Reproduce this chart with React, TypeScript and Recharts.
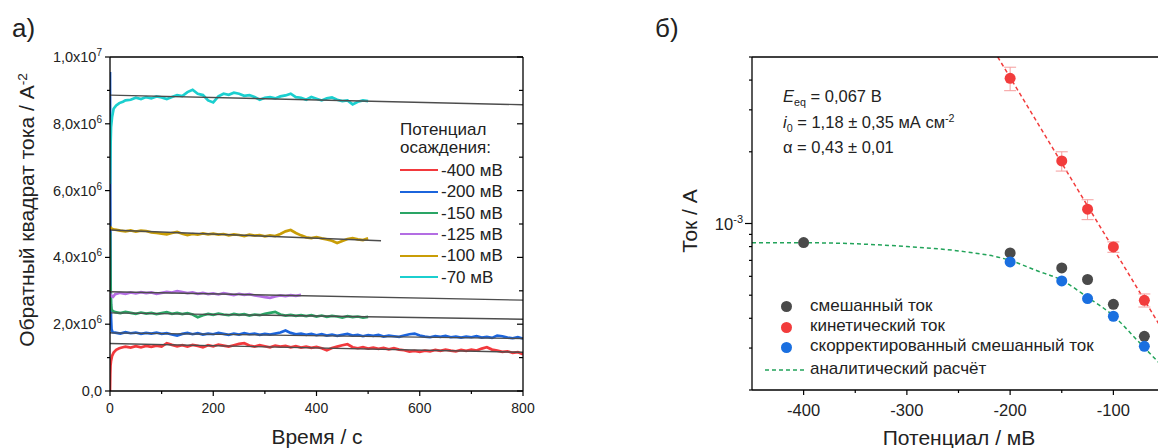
import React from 'react';
import { LineChart, Line, XAxis, YAxis, ComposedChart, Scatter, ErrorBar } from 'recharts';

const FONT = '"Liberation Sans", Arial, sans-serif';
const INK = '#222';

// ---------- panel a): inverse squared current vs time (values in 1e6 A^-2) ----------
const grid = (from: number, to: number, step: number) => {
  const out: number[] = [];
  for (let t = from; t <= to + 1e-9; t += step) out.push(t);
  return out;
};

const red400Times = [0, 0.5, 1, 2, 4, 7, 12, 18, 25, ...grid(30, 800, 10)];
const red400Values = [
  0, 0.5, 0.75, 0.9, 1.05, 1.15, 1.23, 1.28, 1.31,
  1.33, 1.30, 1.34, 1.31, 1.35, 1.32, 1.36, 1.33, 1.43, 1.38,
  1.34, 1.37, 1.33, 1.38, 1.35, 1.31, 1.37, 1.34, 1.39, 1.36,
  1.33, 1.37, 1.41, 1.43, 1.36, 1.33, 1.37, 1.34, 1.31, 1.36,
  1.33, 1.35, 1.31, 1.34, 1.30, 1.33, 1.29, 1.32, 1.28, 1.22,
  1.29, 1.33, 1.37, 1.40, 1.31, 1.28, 1.31, 1.27, 1.30, 1.26,
  1.29, 1.25, 1.28, 1.24, 1.22, 1.18, 1.20, 1.17, 1.21, 1.19,
  1.23, 1.20, 1.24, 1.21, 1.19, 1.23, 1.20, 1.24, 1.21, 1.27,
  1.31, 1.24, 1.21, 1.17, 1.19, 1.14, 1.16, 1.10,
];

const blue200Times = [0, 0.5, 1, 2, 3, 5, ...grid(10, 800, 10)];
const blue200Values = [
  9.55, 6.0, 3.5, 2.2, 1.85, 1.76,
  1.75, 1.72, 1.76, 1.73, 1.75, 1.71, 1.74, 1.72, 1.75, 1.71,
  1.73, 1.69, 1.66, 1.71, 1.74, 1.70, 1.73, 1.69, 1.72, 1.70,
  1.74, 1.71, 1.68, 1.72, 1.69, 1.73, 1.70, 1.72, 1.68, 1.71,
  1.69, 1.72, 1.75, 1.81, 1.74, 1.70, 1.72, 1.68, 1.71, 1.67,
  1.70, 1.66, 1.69, 1.65, 1.68, 1.71, 1.66, 1.68, 1.64, 1.67,
  1.65, 1.68, 1.63, 1.66, 1.64, 1.62, 1.66, 1.70, 1.72, 1.66,
  1.63, 1.61, 1.64, 1.62, 1.65, 1.61, 1.63, 1.60, 1.63, 1.61,
  1.64, 1.60, 1.62, 1.59, 1.66, 1.64, 1.60, 1.58, 1.61, 1.57,
];

const green150Times = [0, 1, 2, 3, 5, ...grid(10, 500, 10)];
const green150Values = [
  4.75, 3.2, 2.6, 2.45, 2.4,
  2.36, 2.33, 2.37, 2.34, 2.31, 2.35, 2.32, 2.34, 2.30, 2.33,
  2.36, 2.31, 2.34, 2.30, 2.33, 2.29, 2.21, 2.27, 2.31, 2.28,
  2.32, 2.29, 2.27, 2.31, 2.28, 2.30, 2.26, 2.29, 2.27, 2.31,
  2.34, 2.37, 2.29, 2.26, 2.28, 2.25, 2.27, 2.24, 2.27, 2.23,
  2.26, 2.22, 2.25, 2.23, 2.20, 2.24, 2.21, 2.23, 2.20, 2.22,
];

const purple125Times = [0, 3, 6, ...grid(10, 370, 10)];
const purple125Values = [
  2.92, 2.84, 2.82,
  2.90, 2.94, 2.91, 2.95, 2.92, 2.96, 2.93, 2.95, 2.91, 2.94,
  2.97, 2.95, 2.99, 2.96, 2.93, 2.95, 2.91, 2.94, 2.90, 2.92,
  2.89, 2.93, 2.90, 2.87, 2.91, 2.88, 2.90, 2.86, 2.84, 2.81,
  2.79, 2.83, 2.86, 2.84, 2.87, 2.85, 2.88,
];

const gold100Times = [0, 3, ...grid(10, 500, 10)];
const gold100Values = [
  4.92, 4.86,
  4.83, 4.80, 4.78, 4.81, 4.77, 4.80, 4.79, 4.75, 4.73, 4.71,
  4.69, 4.73, 4.76, 4.71, 4.67, 4.70, 4.68, 4.72, 4.69, 4.71,
  4.68, 4.70, 4.66, 4.69, 4.67, 4.64, 4.68, 4.65, 4.67, 4.63,
  4.66, 4.64, 4.70, 4.78, 4.82, 4.73, 4.66, 4.60, 4.58, 4.61,
  4.57, 4.54, 4.50, 4.43, 4.49, 4.55, 4.58, 4.54, 4.52, 4.57,
];

const cyan70Times = [0, 1, 2, 4, 7, 12, 18, 25, ...grid(30, 500, 10)];
const cyan70Values = [
  6.2, 7.3, 7.9, 8.2, 8.45, 8.55, 8.62, 8.66,
  8.70, 8.72, 8.78, 8.74, 8.80, 8.76, 8.82, 8.79, 8.74, 8.80,
  8.86, 8.83, 8.95, 9.02, 8.90, 8.86, 8.70, 8.64, 8.82, 8.90,
  8.87, 8.93, 8.90, 8.84, 8.86, 8.80, 8.72, 8.78, 8.80, 8.76,
  8.82, 8.85, 8.90, 8.80, 8.78, 8.72, 8.80, 8.75, 8.70, 8.76,
  8.79, 8.72, 8.68, 8.70, 8.58, 8.66, 8.70, 8.68,
];

// linear fits: [start time, end time] and [start value, end value]
const fitTimes = { f70: [0, 800], f100: [0, 525], f125: [0, 800], f150: [0, 800], f200: [0, 800], f400: [0, 800] };
const fitValues = { f70: [8.86, 8.57], f100: [4.82, 4.5], f125: [2.97, 2.72], f150: [2.34, 2.15], f200: [1.74, 1.57], f400: [1.42, 1.16] };

const TIME_TICKS = [0, 100, 200, 300, 400, 500, 600, 700, 800];
const SQ_TICKS = [0, 1, 2, 3, 4, 5, 6, 7, 8, 9, 10];

const timeSeries = [
  { name: '-400 мВ', color: '#f2393d', times: red400Times, values: red400Values },
  { name: '-200 мВ', color: '#1b64dc', times: blue200Times, values: blue200Values },
  { name: '-150 мВ', color: '#2aa565', times: green150Times, values: green150Values },
  { name: '-125 мВ', color: '#b36de3', times: purple125Times, values: purple125Values },
  { name: '-100 мВ', color: '#c99d06', times: gold100Times, values: gold100Values },
  { name: '-70 мВ', color: '#1bcfcf', times: cyan70Times, values: cyan70Values },
];

const zipTV = (times: number[], values: number[]) => times.map((t, i) => ({ t, v: values[i] }));

// ---------- panel б): current vs potential (log scale, A) ----------
const mixedPot = [-400, -200, -150, -125, -100, -70];
const mixedCurrent = [8.32e-4, 7.52e-4, 6.51e-4, 5.82e-4, 4.58e-4, 3.36e-4];
const kinPot = [-200, -150, -125, -100, -70];
const kinCurrent = [4.07e-3, 1.83e-3, 1.148e-3, 7.97e-4, 4.76e-4];
const kinErr = [4.6e-4, 1.7e-4, 1.1e-4, 4e-5, 3e-5];
const corrPot = [-200, -150, -125, -100, -70];
const corrCurrent = [6.9e-4, 5.74e-4, 4.84e-4, 4.08e-4, 3.05e-4];
const tafelPot = [-212, -50];
const tafelCurrent = [5.0e-3, 3.43e-4];
const analyticPot = [-450, -400, -350, -300, -250, -200, -175, -150, -125, -100, -75, -50];
const analyticCurrent = [8.3e-4, 8.3e-4, 8.22e-4, 8.0e-4, 7.67e-4, 7.0e-4, 6.36e-4, 5.78e-4, 4.9e-4, 4.1e-4, 3.17e-4, 2.45e-4];

const POT_TICKS = [-400, -350, -300, -250, -200, -150, -100, -50];
const LOG_TICKS = [2e-4, 3e-4, 4e-4, 5e-4, 6e-4, 7e-4, 8e-4, 9e-4, 1e-3, 2e-3, 3e-3, 4e-3, 5e-3];

const zipXY = (xs: number[], ys: number[], errs?: number[]) =>
  xs.map((x, i) => (errs ? { x, y: ys[i], err: errs[i] } : { x, y: ys[i] }));

const GRAY = '#4a4a4a';
const RED = '#f23c3c';
const BLUE = '#1a6fe0';
const GREEN = '#22a35a';

// ---------- tick renderers ----------
const TimeTick = ({ x, y, payload }: any) => {
  const major = payload.value % 200 === 0;
  return (
    <g>
      <line x1={x} y1={y} x2={x} y2={y + (major ? 5 : 3)} stroke="#000" strokeWidth={1.2} />
      {major && (
        <text x={x} y={y + 22} textAnchor="middle" fontSize={14} fontFamily={FONT} fill={INK}>
          {payload.value}
        </text>
      )}
    </g>
  );
};

const TopTick = (major: (v: number) => boolean, big: number, small: number) => ({ x, y, payload }: any) => (
  <line x1={x} y1={y} x2={x} y2={y + (major(payload.value) ? big : small)} stroke="#000" strokeWidth={1.2} />
);

const RightTick = ({ x, y, payload }: any) => {
  const major = payload.value % 2 === 0;
  return <line x1={x - (major ? 6 : 4)} y1={y} x2={x} y2={y} stroke="#000" strokeWidth={1.2} />;
};

const SqTick = ({ x, y, payload }: any) => {
  const v = payload.value;
  const major = v % 2 === 0;
  let main = '';
  let sup = '';
  if (major) {
    if (v === 0) main = '0,0';
    else if (v === 10) { main = '1,0x10'; sup = '7'; }
    else { main = `${v},0x10`; sup = '6'; }
  }
  return (
    <g>
      <line x1={x - (major ? 5 : 3)} y1={y} x2={x} y2={y} stroke="#000" strokeWidth={1.2} />
      {major && (
        <text x={x - 8} y={y + 5} textAnchor="end" fontSize={14.5} fontFamily={FONT} fill={INK}>
          <tspan>{main}</tspan>
          {sup && <tspan dy={-6} fontSize={10}>{sup}</tspan>}
        </text>
      )}
    </g>
  );
};

const PotTick = ({ x, y, payload }: any) => {
  const major = payload.value % 100 === 0;
  return (
    <g>
      <line x1={x} y1={y} x2={x} y2={y + (major ? 5 : 3)} stroke="#000" strokeWidth={1.2} />
      {major && (
        <text x={x} y={y + 26} textAnchor="middle" fontSize={16.5} fontFamily={FONT} fill={INK}>
          {payload.value}
        </text>
      )}
    </g>
  );
};

const LogTick = ({ x, y, payload }: any) => {
  const major = Math.abs(payload.value - 1e-3) < 1e-9;
  return (
    <g>
      <line x1={x - (major ? 7 : 3)} y1={y} x2={x} y2={y} stroke="#000" strokeWidth={1.2} />
      {major && (
        <text x={x - 9} y={y + 6.5} textAnchor="end" fontSize={16.5} fontFamily={FONT} fill={INK}>
          <tspan>10</tspan>
          <tspan dy={-7} fontSize={11}>-3</tspan>
        </text>
      )}
    </g>
  );
};

const dot = (fill: string) => (p: any) => <circle cx={p.cx} cy={p.cy} r={5.5} fill={fill} />;

const abs = (left: number, top: number, extra: React.CSSProperties = {}): React.CSSProperties => ({
  position: 'absolute', left, top, lineHeight: 1, whiteSpace: 'nowrap', ...extra,
});
const supStyle: React.CSSProperties = { fontSize: '0.65em', position: 'relative', top: '-0.55em', lineHeight: 0 };
const subStyle: React.CSSProperties = { fontSize: '0.65em', position: 'relative', top: '0.3em', lineHeight: 0 };

const legendRowsA = [170, 191.5, 213, 234.3, 255.5, 277];
const legendRowsB = [306.7, 327.3, 347.3, 370];

export default function App() {
  const axisLine = { stroke: '#000', strokeWidth: 1.3 };
  return (
    <div style={{ position: 'absolute', left: 0, top: 0, width: 1158, height: 448, overflow: 'hidden', background: '#fff', fontFamily: FONT, color: INK }}>
      {/* panel a) */}
      <div style={{ position: 'absolute', left: 0, top: 0 }}>
        <LineChart width={540} height={448} margin={{ top: 56, right: 16, bottom: 27, left: 50 }}>
          <XAxis dataKey="t" type="number" domain={[0, 800]} ticks={TIME_TICKS} interval={0} allowDataOverflow
            height={30} tickSize={0} tickMargin={0} tickLine={false} axisLine={axisLine} tick={(p: any) => <TimeTick {...p} />} />
          <XAxis xAxisId="top" orientation="top" type="number" domain={[0, 800]} ticks={TIME_TICKS} interval={0} allowDataOverflow
            height={1} tickSize={0} tickMargin={0} tickLine={false} axisLine={axisLine}
            tick={TopTick((v) => v % 200 === 0, 6, 3)} />
          <YAxis type="number" domain={[0, 10]} ticks={SQ_TICKS} interval={0} allowDataOverflow
            width={60} tickSize={0} tickMargin={0} tickLine={false} axisLine={axisLine} tick={(p: any) => <SqTick {...p} />} />
          <YAxis yAxisId="right" orientation="right" type="number" domain={[0, 10]} ticks={SQ_TICKS} interval={0} allowDataOverflow
            width={1} tickSize={0} tickMargin={0} tickLine={false} axisLine={axisLine} tick={(p: any) => <RightTick {...p} />} />
          {timeSeries.map((s) => (
            <Line key={s.name} data={zipTV(s.times, s.values)} dataKey="v" stroke={s.color} strokeWidth={2.7}
              dot={false} type="linear" isAnimationActive={false} />
          ))}
          {Object.keys(fitTimes).map((k) => (
            <Line key={k} data={zipTV((fitTimes as any)[k], (fitValues as any)[k])} dataKey="v" stroke="#4d4d4d"
              strokeWidth={1.4} dot={false} type="linear" isAnimationActive={false} />
          ))}
        </LineChart>
      </div>

      {/* panel б) */}
      <div style={{ position: 'absolute', left: 640, top: 0 }}>
        <ComposedChart width={526} height={448} margin={{ top: 56, right: 1, bottom: 28, left: 52 }}>
          <XAxis dataKey="x" type="number" domain={[-450, -50]} ticks={POT_TICKS} interval={0} allowDataOverflow
            height={30} tickSize={0} tickMargin={0} tickLine={false} axisLine={axisLine} tick={(p: any) => <PotTick {...p} />} />
          <XAxis xAxisId="top" orientation="top" type="number" domain={[-450, -50]} ticks={POT_TICKS} interval={0} allowDataOverflow
            height={1} tickSize={0} tickMargin={0} tickLine={false} axisLine={axisLine}
            tick={TopTick((v) => v % 100 === 0, 6, 3)} />
          <YAxis dataKey="y" type="number" scale="log" domain={[2e-4, 5e-3]} ticks={LOG_TICKS} interval={0} allowDataOverflow
            width={60} tickSize={0} tickMargin={0} tickLine={false} axisLine={axisLine} tick={(p: any) => <LogTick {...p} />} />
          <Line data={zipXY(analyticPot, analyticCurrent)} dataKey="y" stroke={GREEN} strokeWidth={1.5} strokeDasharray="4 3"
            dot={false} type="monotone" isAnimationActive={false} />
          <Line data={zipXY(tafelPot, tafelCurrent)} dataKey="y" stroke={RED} strokeWidth={1.5} strokeDasharray="4 3"
            dot={false} type="linear" isAnimationActive={false} />
          <Scatter data={zipXY(mixedPot, mixedCurrent)} dataKey="y" fill={GRAY} shape={dot(GRAY)} isAnimationActive={false} />
          <Scatter data={zipXY(kinPot, kinCurrent, kinErr)} dataKey="y" fill={RED} shape={dot(RED)} isAnimationActive={false}>
            <ErrorBar dataKey="err" direction="y" width={6} stroke="#f59c9c" strokeWidth={1} />
          </Scatter>
          <Scatter data={zipXY(corrPot, corrCurrent)} dataKey="y" fill={BLUE} shape={dot(BLUE)} isAnimationActive={false} />
        </ComposedChart>
      </div>

      {/* panel labels */}
      <div style={abs(12, 14.5, { fontSize: 26 })}>а)</div>
      <div style={abs(655, 14.5, { fontSize: 26 })}>б)</div>

      {/* axis titles */}
      <div style={abs(317, 425.8, { fontSize: 21, transform: 'translateX(-50%)' })}>Время / с</div>
      <div style={abs(26, 210, { fontSize: 21, transform: 'translate(-50%, -50%) rotate(-90deg)' })}>
        Обратный квадрат тока / A<span style={supStyle}>-2</span>
      </div>
      <div style={abs(959, 427.2, { fontSize: 21, transform: 'translateX(-50%)' })}>Потенциал / мВ</div>
      <div style={abs(689, 221, { fontSize: 21, transform: 'translate(-50%, -50%) rotate(-90deg)' })}>Ток / A</div>

      {/* legend a) */}
      <div style={abs(400, 120.6, { fontSize: 17 })}>Потенциал</div>
      <div style={abs(400, 138.9, { fontSize: 17 })}>осаждения:</div>
      {timeSeries.map((s, i) => (
        <React.Fragment key={s.name}>
          <div style={{ position: 'absolute', left: 400, top: Math.round(legendRowsA[i] - 1), width: 38, height: 2, background: s.color }} />
          <div style={abs(441, legendRowsA[i] - 8.4, { fontSize: 17 })}>{s.name}</div>
        </React.Fragment>
      ))}

      {/* annotations б) */}
      <div style={abs(783, 88.3, { fontSize: 16.5 })}>
        <i>E</i><span style={subStyle}>eq</span> = 0,067 В
      </div>
      <div style={abs(783, 114.3, { fontSize: 16.5 })}>
        <i>i</i><span style={subStyle}>0</span> = 1,18 ± 0,35 мА см<span style={supStyle}>-2</span>
      </div>
      <div style={abs(783, 139.3, { fontSize: 16.5 })}>α = 0,43 ± 0,01</div>

      {/* legend б) */}
      {[
        { label: 'смешанный ток', color: GRAY },
        { label: 'кинетический ток', color: RED },
        { label: 'скорректированный смешанный ток', color: BLUE },
      ].map((r, i) => (
        <React.Fragment key={r.label}>
          <div style={{ position: 'absolute', left: 780.5, top: legendRowsB[i] - 5.5, width: 11, height: 11, borderRadius: '50%', background: r.color }} />
          <div style={abs(810, legendRowsB[i] - 9.9, { fontSize: 17 })}>{r.label}</div>
        </React.Fragment>
      ))}
      <svg style={{ position: 'absolute', left: 765, top: legendRowsB[3] - 3 }} width={42} height={6}>
        <line x1={0} y1={3} x2={41} y2={3} stroke={GREEN} strokeWidth={1.5} strokeDasharray="4 3" />
      </svg>
      <div style={abs(810, legendRowsB[3] - 9.9, { fontSize: 17 })}>аналитический расчёт</div>
    </div>
  );
}
